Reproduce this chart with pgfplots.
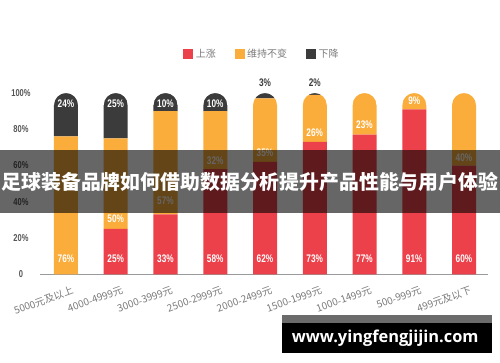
\documentclass[border=0pt]{standalone}
\usepackage{fontspec}
\usepackage{pgfplots}
\pgfplotsset{compat=1.18}
\setmainfont{Liberation Sans}
\newfontfamily\cjk{Noto Sans CJK SC}
\newfontfamily\numfont[FakeStretch=0.75]{Liberation Sans}
\newfontfamily\urlfont{Open Sans}
\definecolor{cRed}{HTML}{EC414A}
\definecolor{cOrg}{HTML}{FAAD3B}
\definecolor{cDark}{HTML}{3B3B3B}
\definecolor{cGrayT}{HTML}{7A7A7A}
\definecolor{cYT}{HTML}{555555}
\definecolor{cAxis}{HTML}{9A9A9A}

\pgfdeclareplotmark{pillcap}{%
  \pgfpathmoveto{\pgfpoint{-9pt}{-9pt}}%
  \pgfpatharc{180}{0}{9pt}%
  \pgfpathlineto{\pgfpoint{9.6pt}{-9pt}}%
  \pgfpathlineto{\pgfpoint{9.6pt}{3pt}}%
  \pgfpathlineto{\pgfpoint{-9.6pt}{3pt}}%
  \pgfpathlineto{\pgfpoint{-9.6pt}{-9pt}}%
  \pgfpathclose
  \pgfusepathqfill}

\pgfplotsset{base/.style={scale only axis, width=336pt, height=136pt,
  xmin=-0.5226, xmax=8.4824, ymin=0, ymax=100, clip=false,
  at={(30pt,65.775pt)}, anchor=south west}}

\begin{document}
\begin{tikzpicture}
\path[use as bounding box] (0,0) rectangle (375pt,271.5pt);
\begin{axis}[base, ybar stacked, bar width=18pt,
  axis x line*=bottom, axis y line*=left,
  y axis line style={draw=none},
  x axis line style={draw=cAxis, line width=0.75pt},
  tick style={draw=none}, major tick length=0pt,
  xtick={0,...,8},
  xticklabels={5000元及以上,4000-4999元,3000-3999元,2500-2999元,2000-2499元,1500-1999元,1000-1499元,500-999元,499元及以下},
  xticklabel style={font=\cjk\fontsize{7.5}{9}\selectfont, text=cGrayT, xshift=6pt, yshift=-4pt, rotate=20, anchor=north east},
  ytick={0,20,40,60,80,100},
  yticklabels={0,20\%,40\%,60\%,80\%,100\%},
  yticklabel style={font=\numfont\bfseries\fontsize{7.5}{9}\selectfont, text=cYT, anchor=center, xshift=-14.25pt},
  legend columns=3,
  legend image code/.code={\fill[#1] (0pt,-3.75pt) rectangle (7.5pt,3.75pt);},
  legend style={at={(0.319,1.215)}, anchor=west, draw=none, fill=none, inner sep=0pt,
    font=\cjk\fontsize{7.5}{9}\selectfont, text=cGrayT,
    /tikz/every even column/.append style={column sep=12pt}},
  ]
\addplot[fill=cRed, draw=none] coordinates {(0,0) (1,25) (2,33) (3,58) (4,62) (5,73) (6,77) (7,91) (8,60)};
\addlegendentry{上涨}
\addplot[fill=cOrg, draw=none] coordinates {(0,76) (1,50) (2,57) (3,32) (4,35) (5,26) (6,23) (7,9) (8,40)};
\addlegendentry{维持不变}
\addplot[fill=cDark, draw=none] coordinates {(0,24) (1,25) (2,10) (3,10) (4,3) (5,2) (6,0) (7,0) (8,0)};
\addlegendentry{下降}
\end{axis}
\begin{axis}[base, hide axis]
\addplot[only marks, mark=pillcap, color=white] coordinates {(0,100) (1,100) (2,100) (3,100) (4,100) (5,100) (6,100) (7,100) (8,100)};
\addplot[draw=none, mark=none, point meta=explicit symbolic,
  nodes near coords={\pgfplotspointmeta\%}, nodes near coords align={center},
  every node near coord/.append style={font=\numfont\bfseries\fontsize{8.25}{9}\selectfont, text=white}]
  table[meta=v] {
x y v
0 93.9 24
0 8.8 76
1 93.9 25
1 30.5 50
1 8.8 25
2 93.9 10
2 40.4 57
2 8.8 33
3 93.9 10
3 62.5 32
3 8.8 58
4 66.9 35
4 8.8 62
5 77.9 26
5 8.8 73
6 82.3 23
6 8.8 77
7 95.6 9
7 8.8 91
8 64.1 40
8 8.8 60
};
\addplot[draw=none, mark=none, point meta=explicit symbolic,
  nodes near coords={\pgfplotspointmeta\%}, nodes near coords align={center},
  every node near coord/.append style={font=\numfont\bfseries\fontsize{8.25}{9}\selectfont, text=cDark}]
  table[meta=v] {
x y v
4 105.4 3
5 105.4 2
};
\end{axis}
\fill[black, opacity=0.6] (0pt,111.75pt) rectangle (375pt,159pt);
\node[font=\cjk\bfseries\fontsize{14.9}{16}\selectfont, text=white, inner sep=0pt] at (187.5pt,135.4pt) {足球装备品牌如何借助数据分析提升产品性能与用户体验};
\fill[black!58] (211.5pt,29.25pt) rectangle (369pt,35.25pt);
\fill[black] (211.5pt,6.75pt) rectangle (369pt,29.25pt);
\node[text=white, inner sep=0pt] at (288.9pt,17.6pt) {\resizebox{140pt}{!}{\urlfont\bfseries www.yingfengjijin.com}};
\end{tikzpicture}
\end{document}
